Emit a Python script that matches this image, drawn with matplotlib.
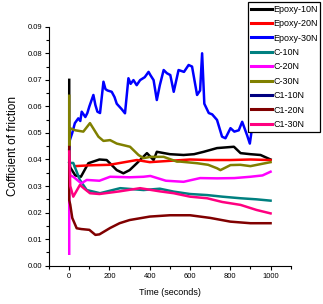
"""Coefficient of friction vs time for epoxy and composite samples."""

import matplotlib.pyplot as plt
from matplotlib.ticker import MultipleLocator

plt.rcParams["font.family"] = ["Liberation Sans", "DejaVu Sans"]

# values (time in s, coefficient of friction)
epoxy10_t = [0, 0, 5, 30, 58, 95, 150, 186, 236, 269, 300, 336, 386, 419, 435, 500,
             568, 620, 668, 734, 818, 851, 900, 950, 1000]
epoxy10_y = [0.070, 0.040, 0.037, 0.034, 0.0335, 0.0386, 0.040, 0.0398, 0.036, 0.0348,
             0.036, 0.0386, 0.0424, 0.0398, 0.0429, 0.042, 0.0417, 0.042, 0.0429, 0.0443,
             0.0448, 0.0424, 0.042, 0.0417, 0.040]

epoxy20_t = [28, 100, 200, 336, 400, 500, 600, 701, 800, 900, 1000]
epoxy20_y = [0.0375, 0.0378, 0.038, 0.0398, 0.039, 0.0395, 0.040, 0.0398, 0.0398, 0.040, 0.0398]

epoxy30_t = [0, 3, 15, 28, 45, 55, 62, 80, 90, 100, 120, 130, 140, 153, 170, 180, 190,
             211, 225, 236, 260, 277, 294, 305, 319, 335, 352, 375, 394, 403, 419, 435,
             450, 469, 485, 502, 519, 543, 570, 593, 610, 635, 650, 660, 671, 693, 710,
             734, 759, 776, 801, 820, 842, 859, 884, 897, 910, 950, 1000]
epoxy30_y = [0.044, 0.0473, 0.050, 0.0537, 0.0555, 0.0545, 0.058, 0.056, 0.0575, 0.060,
             0.0643, 0.0605, 0.058, 0.0575, 0.0693, 0.0665, 0.066, 0.0655, 0.0635, 0.061,
             0.059, 0.0574, 0.0706, 0.0685, 0.0699, 0.068, 0.0699, 0.071, 0.073, 0.0718,
             0.0699, 0.0624, 0.068, 0.0737, 0.0725, 0.0718, 0.0655, 0.0737, 0.073, 0.0756,
             0.075, 0.0643, 0.066, 0.080, 0.061, 0.0575, 0.057, 0.0549, 0.0486, 0.048,
             0.0518, 0.0505, 0.051, 0.0542, 0.049, 0.046, 0.053, 0.052, 0.052]

c10_t = [0, 5, 20, 53, 87, 153, 253, 369, 450, 519, 600, 685, 760, 851, 930, 1000]
c10_y = [0.039, 0.0387, 0.0387, 0.0323, 0.0285, 0.0273, 0.0292, 0.0285, 0.029, 0.0279,
         0.027, 0.0266, 0.026, 0.0254, 0.025, 0.0245]

c20_t = [0, 0, 5, 20, 60, 87, 150, 203, 300, 369, 403, 480, 568, 650, 734, 820, 900, 960, 1000]
c20_y = [0.0045, 0.040, 0.034, 0.0335, 0.031, 0.0323, 0.032, 0.0335, 0.0333, 0.0335,
         0.0338, 0.032, 0.0316, 0.033, 0.0329, 0.033, 0.0335, 0.034, 0.0354]

c30_t = [0, 0, 3, 30, 70, 103, 145, 170, 203, 236, 302, 344, 369, 403, 469, 535,
         552, 635, 690, 734, 751, 801, 850, 900, 1000]
c30_y = [0.064, 0.045, 0.0518, 0.051, 0.0505, 0.0537, 0.0486, 0.047, 0.0473, 0.046,
         0.0448, 0.0417, 0.0405, 0.041, 0.041, 0.0392, 0.0392, 0.0386, 0.038, 0.0367,
         0.036, 0.0379, 0.038, 0.0375, 0.039]

c1_10_t = []
c1_10_y = []

c1_20_t = [0, 0, 5, 15, 37, 60, 100, 130, 150, 203, 250, 300, 400, 500, 600, 700, 800, 900, 1000]
c1_20_y = [0.0447, 0.0247, 0.023, 0.018, 0.0141, 0.0138, 0.0135, 0.0116, 0.0118, 0.0142,
           0.016, 0.0172, 0.0185, 0.019, 0.019, 0.018, 0.0166, 0.016, 0.016]

c1_30_t = [0, 5, 20, 53, 75, 103, 150, 250, 352, 450, 519, 600, 685, 760, 851, 930, 1000]
c1_30_y = [0.043, 0.030, 0.026, 0.0304, 0.029, 0.0273, 0.027, 0.028, 0.0292, 0.028,
           0.0273, 0.026, 0.0254, 0.024, 0.0229, 0.021, 0.0197]

series = [
    ("Epoxy-10N", epoxy10_t, epoxy10_y, "#000000"),
    ("Epoxy-20N", epoxy20_t, epoxy20_y, "#ff0000"),
    ("Epoxy-30N", epoxy30_t, epoxy30_y, "#0000ff"),
    ("C-10N", c10_t, c10_y, "#008080"),
    ("C-20N", c20_t, c20_y, "#ff00ff"),
    ("C-30N", c30_t, c30_y, "#808000"),
    ("C1-10N", c1_10_t, c1_10_y, "#000080"),
    ("C1-20N", c1_20_t, c1_20_y, "#800000"),
    ("C1-30N", c1_30_t, c1_30_y, "#ff0080"),
]

fig = plt.figure(figsize=(3.23, 3.04), dpi=100)
ax = fig.add_axes([0.152, 0.126, 0.748, 0.786])

for name, t, y, color in series:
    ax.plot(t, y, color=color, lw=1.8, label=name)

ax.set_xlim(-100, 1100)
ax.set_ylim(0, 0.09)
ax.xaxis.set_major_locator(MultipleLocator(200))
ax.xaxis.set_minor_locator(MultipleLocator(100))
ax.yaxis.set_major_locator(MultipleLocator(0.01))
ax.yaxis.set_minor_locator(MultipleLocator(0.005))
ax.yaxis.set_major_formatter(plt.FormatStrFormatter("%.2f"))
ax.tick_params(which="major", direction="out", length=3, width=0.8, labelsize=5.5,
               pad=2)
ax.tick_params(which="minor", direction="out", length=2, width=0.8)
for side in ("top", "right"):
    ax.spines[side].set_visible(False)

ax.set_xlabel("Time (seconds)", fontsize=6.5, labelpad=6)
ax.set_ylabel("Cofficient of friction", fontsize=8.5, labelpad=6)

leg = ax.legend(loc="upper left", bbox_to_anchor=(248 / 323, 1 - 2 / 304),
                bbox_transform=fig.transFigure, fontsize=6.5, frameon=True,
                fancybox=False, edgecolor="black", framealpha=1,
                handlelength=2.4, handletextpad=0.1, labelspacing=0.6,
                borderpad=0.3, borderaxespad=0)
leg.get_frame().set_linewidth(0.9)
for line in leg.get_lines():
    line.set_linewidth(2.2)

fig.savefig("out.png", dpi=100)
